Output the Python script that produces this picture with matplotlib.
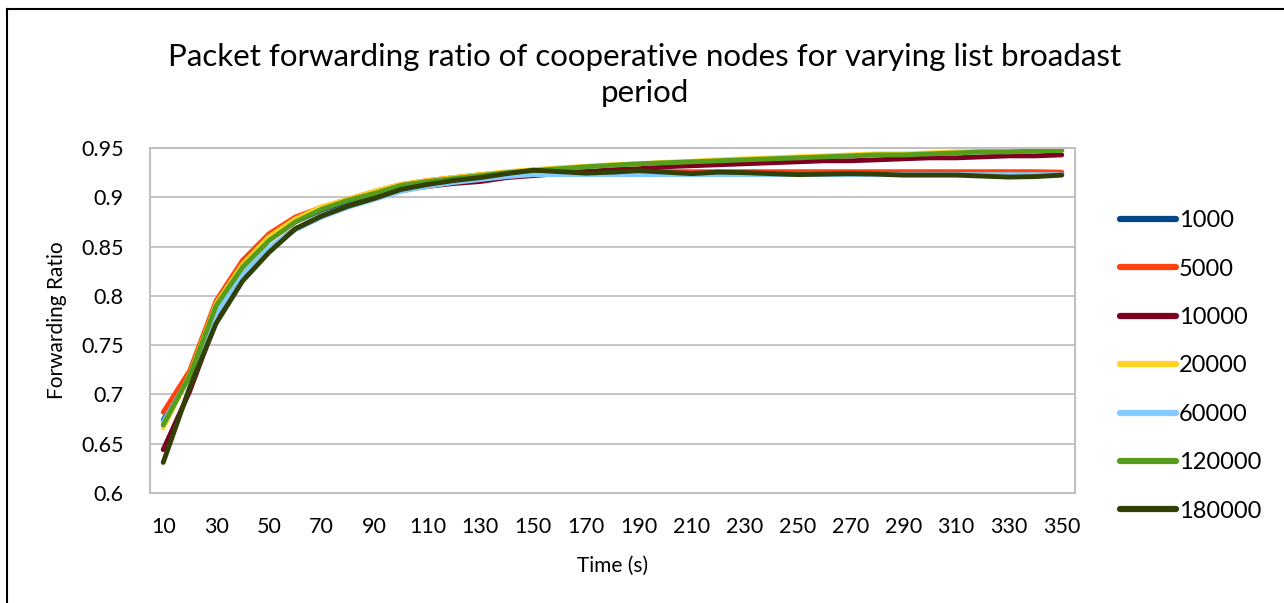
import matplotlib
matplotlib.use("Agg")
import matplotlib.pyplot as plt
from matplotlib.lines import Line2D

plt.rcParams['font.family'] = ['Lato', 'DejaVu Sans']

# x axis: time in seconds
time_s = list(range(10, 360, 10))

# forwarding ratio per list broadcast period
r_1000 = [0.674, 0.721, 0.790, 0.830, 0.857, 0.875, 0.887, 0.896, 0.903, 0.910,
          0.914, 0.918, 0.921, 0.924, 0.926, 0.926, 0.925, 0.925, 0.925, 0.925,
          0.924, 0.924, 0.924, 0.924, 0.924, 0.924, 0.924, 0.924, 0.924, 0.924,
          0.924, 0.924, 0.924, 0.924, 0.924]
r_5000 = [0.682, 0.724, 0.795, 0.836, 0.863, 0.880, 0.890, 0.898, 0.906, 0.913,
          0.917, 0.920, 0.923, 0.925, 0.926, 0.926, 0.926, 0.926, 0.926, 0.926,
          0.926, 0.926, 0.926, 0.926, 0.926, 0.926, 0.926, 0.926, 0.926, 0.926,
          0.926, 0.926, 0.926, 0.926, 0.9255]
r_10000 = [0.644, 0.703, 0.775, 0.821, 0.848, 0.868, 0.881, 0.891, 0.899, 0.907,
           0.911, 0.914, 0.916, 0.920, 0.922, 0.924, 0.926, 0.928, 0.929, 0.931,
           0.932, 0.933, 0.934, 0.935, 0.936, 0.937, 0.937, 0.938, 0.939, 0.940,
           0.940, 0.941, 0.942, 0.942, 0.943]
r_20000 = [0.666, 0.720, 0.792, 0.832, 0.860, 0.878, 0.8905, 0.898, 0.906, 0.913,
           0.917, 0.920, 0.923, 0.926, 0.928, 0.930, 0.9315, 0.933, 0.934, 0.9355,
           0.9365, 0.938, 0.939, 0.940, 0.941, 0.942, 0.943, 0.944, 0.944, 0.945,
           0.946, 0.9465, 0.947, 0.9475, 0.948]
r_60000 = [0.672, 0.718, 0.782, 0.822, 0.849, 0.867, 0.880, 0.890, 0.898, 0.906,
           0.911, 0.915, 0.918, 0.921, 0.923, 0.923, 0.923, 0.923, 0.923, 0.923,
           0.923, 0.923, 0.923, 0.923, 0.923, 0.923, 0.923, 0.923, 0.923, 0.923,
           0.923, 0.923, 0.923, 0.923, 0.923]
r_120000 = [0.669, 0.719, 0.790, 0.829, 0.856, 0.875, 0.888, 0.897, 0.904, 0.912,
            0.916, 0.919, 0.922, 0.925, 0.927, 0.929, 0.931, 0.9325, 0.934, 0.935,
            0.936, 0.937, 0.938, 0.939, 0.940, 0.941, 0.942, 0.943, 0.943, 0.944,
            0.945, 0.946, 0.946, 0.947, 0.9475]
r_180000 = [0.631, 0.707, 0.772, 0.815, 0.844, 0.868, 0.881, 0.891, 0.899, 0.908,
            0.913, 0.917, 0.920, 0.924, 0.9275, 0.926, 0.9245, 0.9255, 0.927, 0.9255,
            0.924, 0.9255, 0.925, 0.924, 0.923, 0.9235, 0.924, 0.9235, 0.9225, 0.9225,
            0.9225, 0.9215, 0.9205, 0.921, 0.9225]

labels = ['1000', '5000', '10000', '20000', '60000', '120000', '180000']
colors = ['#004586', '#ff420e', '#7e0021', '#ffd320', '#83caff', '#579d1c', '#314004']
series = [r_1000, r_5000, r_10000, r_20000, r_60000, r_120000, r_180000]

W, H = 1284, 603
fig = plt.figure(figsize=(W / 100, H / 100), dpi=100)
ax = fig.add_axes([150 / W, 1 - 493 / H, (1075 - 150) / W, (493 - 148) / H])

for vals, col, lab in zip(series, colors, labels):
    ax.plot(time_s, vals, color=col, lw=3.5, label=lab, solid_capstyle='round',
            solid_joinstyle='round')

ax.set_xlim(5, 355)
ax.set_ylim(0.6, 0.95)
ax.set_xticks(time_s[::2])
ax.set_xticklabels([str(t) for t in time_s[::2]])
ax.set_yticks([0.6, 0.65, 0.7, 0.75, 0.8, 0.85, 0.9, 0.95])
ax.set_yticklabels(['0.6', '0.65', '0.7', '0.75', '0.8', '0.85', '0.9', '0.95'])
ax.tick_params(length=0, labelsize=15.5)
ax.tick_params(axis='x', pad=17)
ax.tick_params(axis='y', pad=19)
ax.grid(axis='y', color='#c0c0c0', lw=1.3)
ax.set_axisbelow(True)
for s in ax.spines.values():
    s.set_color('#c0c0c0')
    s.set_linewidth(1.5)

ax.set_xlabel('Time (s)', fontsize=15, labelpad=14)
ax.set_ylabel('Forwarding Ratio', fontsize=15, labelpad=10)

fig.text(645 / W, 1 - 75 / H, 'Packet forwarding ratio of cooperative nodes for varying list broadast\nperiod',
         ha='center', va='center', fontsize=22.5, linespacing=1.38)

handles = [Line2D([], [], color=c, lw=4.5, solid_capstyle='round') for c in colors]
fig.legend(handles, labels, loc='center left', bbox_to_anchor=(1108 / W, 1 - 366 / H),
           frameon=False, fontsize=17, handlelength=2.4, handletextpad=0.1,
           labelspacing=1.16, borderpad=0)

# outer chart frame (left and top edges visible)
fig.add_artist(Line2D([7 / W, 7 / W], [0, 1 - 9 / H], color='black', lw=1.5, transform=fig.transFigure))
fig.add_artist(Line2D([7 / W, 1], [1 - 9 / H, 1 - 9 / H], color='black', lw=1.5, transform=fig.transFigure))

fig.savefig('out.png', dpi=100)
